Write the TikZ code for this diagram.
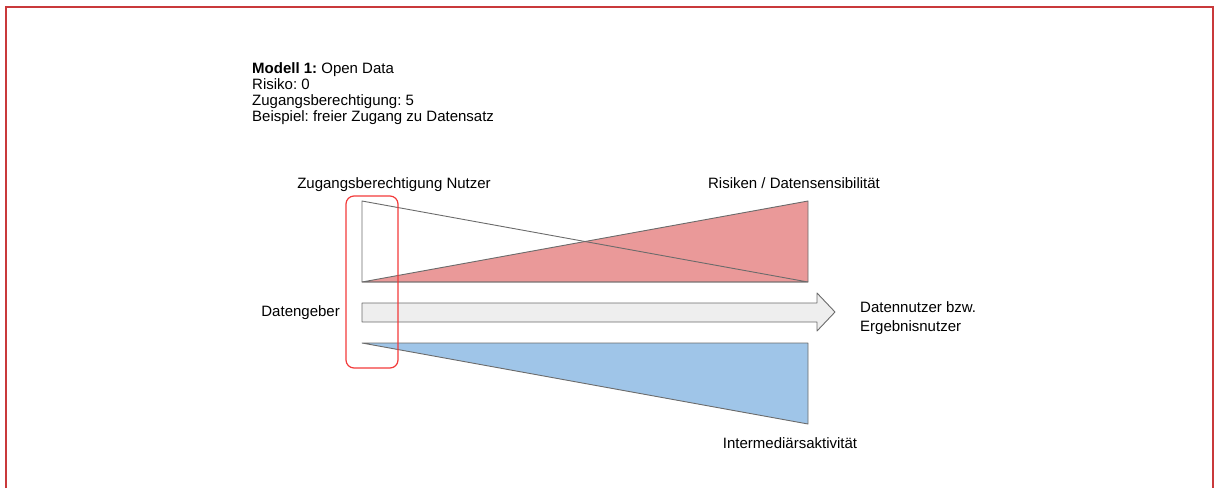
\documentclass[tikz,border=0pt]{standalone}
\usepackage{fontspec}
\setmainfont{Liberation Sans}
\usetikzlibrary{positioning}
\frenchspacing

\definecolor{framered}{HTML}{C9393B}
\definecolor{boxred}{HTML}{F23A3A}
\definecolor{riskred}{HTML}{EA9999}
\definecolor{intblue}{HTML}{9FC5E8}
\definecolor{arrowgray}{HTML}{EEEEEE}
\definecolor{linegray}{HTML}{6B6B6B}

\begin{document}
\begin{tikzpicture}[
    x=1pt,y=-1pt,
    every node/.style={font=\fontsize{15}{16}\selectfont, inner sep=0pt},
    wedge/.style={draw=linegray, line width=0.9pt, line join=round},
]
\useasboundingbox (0,0) rectangle (1214,488);
\draw[framered, line width=2pt] (6,488) -- (6,7) -- (1213,7) -- (1213,488);

% corners of the wedges
\coordinate (tl) at (362,201);
\coordinate (bl) at (362,282);
\coordinate (tr) at (808,201);
\coordinate (br) at (808,282);
\coordinate (ul) at (362,343);
\coordinate (ur) at (808,343);
\coordinate (lr) at (808,424);

\node[anchor=base west, align=left] (info) at (252,121)
    {\textbf{Modell 1:} Open Data\\Risiko: 0\\Zugangsberechtigung: 5\\Beispiel: freier Zugang zu Datensatz};

% risks and access
\draw[wedge, fill=riskred] (bl) -- (tr) -- (br) -- cycle;
\draw[wedge] (tl) -- (bl) -- (br) -- cycle;
\node[anchor=base] (access) at (394,188) {Zugangsberechtigung Nutzer};
\node[anchor=base] (risk) at (794,188) {Risiken / Datensensibilität};

% data flow
\draw[wedge, fill=arrowgray] (362,303) -- (817,303) -- (817,293) -- (835,312)
    coordinate (tip) -- (817,331) -- (817,322) -- (362,322) -- cycle;
\node[anchor=base east] (giver) at (340,316) {Datengeber};
\node[right=25pt of tip, yshift=-6pt, align=left, font=\fontsize{15}{18.4}\selectfont] (user)
    {Datennutzer bzw.\\Ergebnisnutzer};

% intermediaries
\draw[wedge, fill=intblue] (ul) -- (ur) -- (lr) -- cycle;
\node[anchor=base] (inter) at (790,448) {Intermediärsaktivität};

\draw[boxred, line width=1.2pt, rounded corners=8pt] (346,196) rectangle (398,368);
\end{tikzpicture}
\end{document}
